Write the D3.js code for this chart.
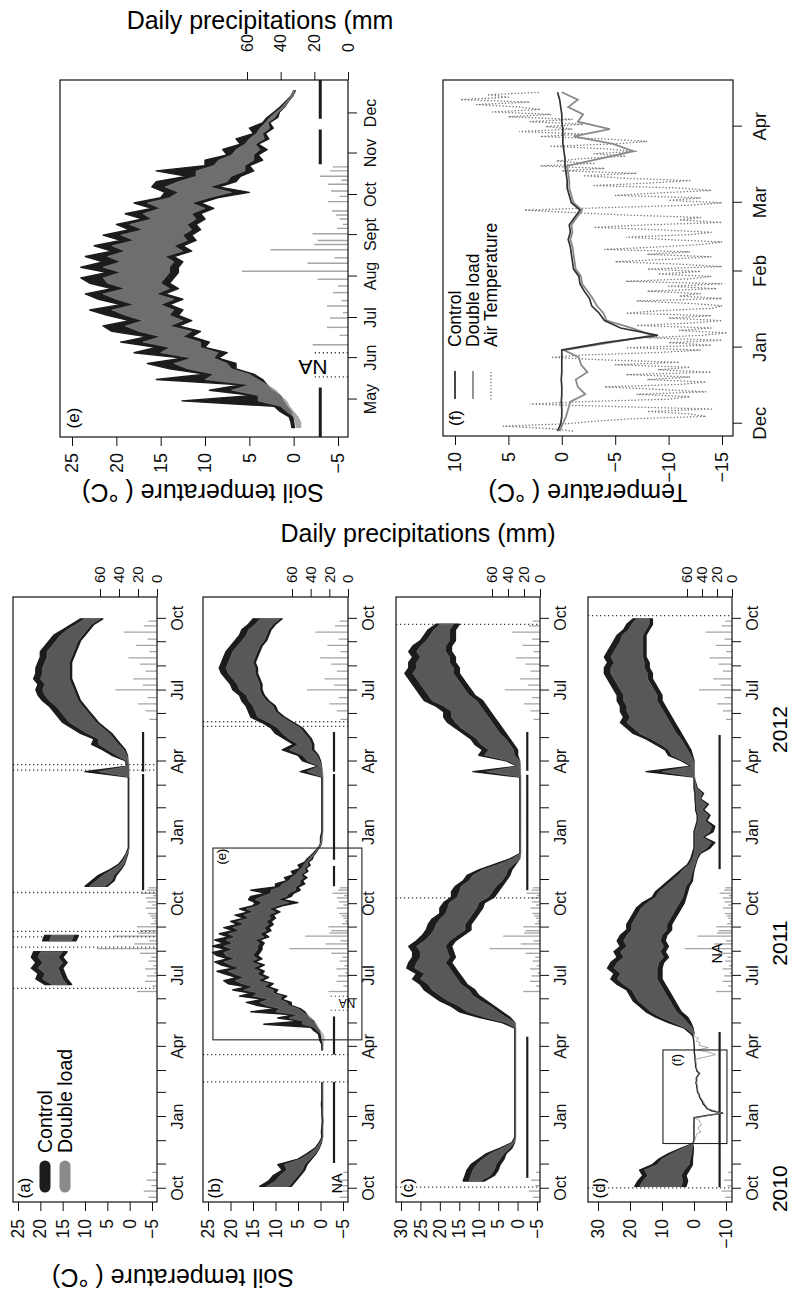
<!DOCTYPE html>
<html>
<head>
<meta charset="utf-8">
<title>Soil temperature</title>
<style>
  body { margin: 0; background: #fff; }
  svg { display: block; }
</style>
</head>
<body>
<svg id="fig" width="791" height="1297"></svg>
<script src="https://d3js.org/d3.v7.min.js"></script>
<script>
const N = null;

// ---- weekly soil temperature (deg C), one value every 7 days from 2010-09-13 ----
const weekStart = '2010-09-13', weekStep = 7;

// (a)
const aHi = [
  N, N, N, N, N, N, N, N, N, N,
  N, N, N, N, N, N, N, N, N, N,
  N, N, N, N, N, N, N, N, N, N,
  N, N, N, N, N, N, N, N, N, N,
  19, 21, 20.5, 22, 21, 22, 21.5, N, 19.5, 19,
  N, N, N, N, N, N, N, N, 10, 8.5,
  7, 4.5, 2.5, 1.5, 0.8, 0.3, 0.3, 0.3, 0.3, 0.3,
  0.3, 0.3, 0.3, 0.3, 0.3, 0.3, 0.3, 0.3, 0.3, 10,
  0.5, 1, 4, 6, 8.5, 8, 11, 13, 15, 16,
  17, 18, 19.5, 20.5, 21, 20.5, 21.5, 21, 21, 20.5,
  20, 20, 19, 18, 17, 15, 13, 11];
const aLo = [
  N, N, N, N, N, N, N, N, N, N,
  N, N, N, N, N, N, N, N, N, N,
  N, N, N, N, N, N, N, N, N, N,
  N, N, N, N, N, N, N, N, N, N,
  13, 14, 14.5, 15, 14, 15, 14, N, 12, 11.5,
  N, N, N, N, N, N, N, N, 5, 3.5,
  3, 2, 1.2, 0.8, 0.4, 0.3, 0.3, 0.3, 0.3, 0.3,
  0.3, 0.3, 0.3, 0.3, 0.3, 0.3, 0.3, 0.3, 0.3, 0.3,
  0.3, 0.4, 0.5, 1, 2, 3, 4, 5.5, 7, 8,
  9, 10, 11, 11.5, 12, 12.5, 13, 13, 13, 13,
  12.5, 12, 11.5, 11, 10, 9, 8, 6];
const aDblHi = [
  N, N, N, N, N, N, N, N, N, N,
  N, N, N, N, N, N, N, N, N, N,
  N, N, N, N, N, N, N, N, N, N,
  N, N, N, N, N, N, N, N, N, N,
  17.5, 19.5, 19, 20.5, 19.5, 20.5, 20, N, 18, 17.5,
  N, N, N, N, N, N, N, N, 9, 7.5,
  6, 4, 2.2, 1.3, 0.7, 0.1, 0.1, 0.1, 0.1, 0.1,
  0.1, 0.1, 0.1, 0.1, 0.1, 0.1, 0.1, 0.1, 0.1, 7,
  0.3, 0.8, 3, 5, 7, 7, 9.5, 11.5, 13.5, 14.5,
  15.5, 16.5, 18, 19, 19.5, 19, 20, 19.5, 19.5, 19,
  18.5, 18.5, 17.5, 16.5, 15.5, 14, 12, 10];
const aDblLo = [
  N, N, N, N, N, N, N, N, N, N,
  N, N, N, N, N, N, N, N, N, N,
  N, N, N, N, N, N, N, N, N, N,
  N, N, N, N, N, N, N, N, N, N,
  14, 15, 15.5, 16, 15, 16, 15, N, 13, 12.5,
  N, N, N, N, N, N, N, N, 5.5, 4,
  3.5, 2.3, 1.3, 0.9, 0.5, 0, 0, 0, 0, 0,
  0, 0, 0, 0, 0, 0, 0, 0, 0, 0,
  0.1, 0.3, 0.6, 1.3, 2.5, 3.5, 4.5, 6, 7.5, 8.5,
  9.5, 10.5, 11.5, 12, 12.5, 13, 13.5, 13.5, 13.5, 13.5,
  13, 12.5, 12, 11.5, 10.5, 9.5, 8.5, 6.5];

// (b)  (Apr-Dec 2011 comes from the detailed (e) series)
const bHi = [
  N, N, N, 13.5, 11.5, 10.5, 8.5, 9.5, 5, 3,
  1.2, 0.3, -0.3, -0.2, -0.3, -0.4, -0.3, -0.3, -0.2, -0.3,
  -0.3, -0.3, -0.3, N, N, N, N, N, -0.3, -0.3,
  N, N, N, N, N, N, N, N, N, N,
  N, N, N, N, N, N, N, N, N, N,
  N, N, N, N, N, N, N, N, N, N,
  N, N, N, N, N, N, 0, 0, -0.3, -0.3,
  -0.3, -0.3, -0.3, -0.3, -0.3, -0.3, -0.3, -0.3, -0.3, 4.5,
  0.5, 4, 5, 8.5, 6, 8, 10, 11, 13, 15.5,
  16, 16.5, 17.5, 18, 19.5, 20, 21, 22, 22.5, 22,
  21.5, 21, 20, 19, 18, 17.5, 16, 15];
const bLo = [
  N, N, N, 6.5, 5.5, 4.5, 3.5, 3, 2, 1,
  0.3, -0.2, -0.4, -0.4, -0.4, -0.5, -0.4, -0.4, -0.4, -0.4,
  -0.4, -0.4, -0.4, N, N, N, N, N, -0.4, -0.4,
  N, N, N, N, N, N, N, N, N, N,
  N, N, N, N, N, N, N, N, N, N,
  N, N, N, N, N, N, N, N, N, N,
  N, N, N, N, N, N, -0.2, -0.3, -0.4, -0.4,
  -0.4, -0.4, -0.4, -0.4, -0.4, -0.4, -0.4, -0.4, -0.4, -0.3,
  -0.2, 0, 0.5, 1.5, 1.5, 2, 3, 4, 6, 8,
  9.5, 10, 11.5, 12.5, 13, 13, 13.5, 14, 14, 14.5,
  14, 13.5, 13, 12, 11.5, 11, 10, 8.5];
const bDblHi = [
  N, N, N, 12, 10, 9, 7.5, 8, 4.5, 2.5,
  1, 0.1, -0.5, -0.5, -0.5, -0.6, -0.5, -0.5, -0.5, -0.5,
  -0.5, -0.5, -0.5, N, N, N, N, N, -0.5, -0.5,
  N, N, N, N, N, N, N, N, N, N,
  N, N, N, N, N, N, N, N, N, N,
  N, N, N, N, N, N, N, N, N, N,
  N, N, N, N, N, N, -0.1, -0.2, -0.5, -0.5,
  -0.5, -0.5, -0.5, -0.5, -0.5, -0.5, -0.5, -0.5, -0.5, 3,
  0.3, 3, 4, 7, 5, 7, 8.5, 9.5, 11.5, 14,
  14.5, 15, 16, 16.5, 18, 18.5, 19.5, 20.5, 21, 20.5,
  20, 19.5, 18.5, 17.5, 16.5, 16, 14.5, 13.5];
const bDblLo = [
  N, N, N, 7, 6, 5, 4, 3.5, 2.3, 1.2,
  0.4, -0.1, -0.6, -0.6, -0.6, -0.7, -0.6, -0.6, -0.6, -0.6,
  -0.6, -0.6, -0.6, N, N, N, N, N, -0.6, -0.6,
  N, N, N, N, N, N, N, N, N, N,
  N, N, N, N, N, N, N, N, N, N,
  N, N, N, N, N, N, N, N, N, N,
  N, N, N, N, N, N, -0.3, -0.4, -0.6, -0.6,
  -0.6, -0.6, -0.6, -0.6, -0.6, -0.6, -0.6, -0.6, -0.6, -0.5,
  -0.3, 0.2, 0.8, 2, 2, 2.5, 3.5, 4.5, 6.5, 8.5,
  10, 10.5, 12, 13, 13.5, 13.5, 14, 14.5, 14.5, 15,
  14.5, 14, 13.5, 12.5, 12, 11.5, 10.5, 9];

// (c)
const cHi = [
  N, N, N, N, 14, 13.5, 13, 12, 10, 8,
  4.5, 1.5, 0.7, 0.7, 0.7, 0.7, 0.7, 0.7, 0.7, 0.7,
  0.7, 0.7, 0.7, 0.7, 0.7, 0.7, 0.7, 0.7, 0.7, 0.7,
  0.7, 0.7, 0.7, 4, 10, 15, 17, 20, 22, 24,
  25, 27, 26, 28.5, 28, 27, 27, 28, 26, 24.5,
  23.5, 23, 22, 20, 20, 19, 17, 17, 16, 14,
  13, 10, 6, 2, -0.6, -0.6, -0.6, -0.6, -0.6, -0.6,
  -0.6, -0.6, -0.6, -0.6, -0.6, -0.6, -0.6, -0.6, -0.6, 11.5,
  0, 3, 10, 9, 11, 12, 14, 16, 18, 19,
  19, 21, 24, 25, 26, 27, 28, 29, 28, 28,
  27, 28, 27, 25, 24, 23, 21, N];
const cLo = [
  N, N, N, N, 8.5, 6, 5, 4.5, 3.5, 3,
  1.5, 0.8, 0.6, 0.6, 0.6, 0.6, 0.6, 0.6, 0.6, 0.6,
  0.6, 0.6, 0.6, 0.6, 0.6, 0.6, 0.6, 0.6, 0.6, 0.6,
  0.6, 0.6, 0.6, 0.7, 2, 4, 6, 8, 10, 11,
  13, 14, 15, 16, 17, 16, 16.5, 17, 16, 14,
  12, 12, 11, 10, 9, 8.5, 6, 5, 4, 3,
  2, 1.5, 0.5, -0.5, -0.7, -0.7, -0.7, -0.7, -0.7, -0.7,
  -0.7, -0.7, -0.7, -0.7, -0.7, -0.7, -0.7, -0.7, -0.7, -0.6,
  -0.6, -0.5, 0, 0, 1, 2, 3, 4, 5, 6,
  7, 8, 9, 11, 12, 13, 14, 15, 15, 16,
  16, 17, 17, 16, 16, 16, 15, N];
const cDblHi = [
  N, N, N, N, 12.5, 12, 11.5, 10.5, 9, 7,
  4, 1.3, 0.5, 0.5, 0.5, 0.5, 0.5, 0.5, 0.5, 0.5,
  0.5, 0.5, 0.5, 0.5, 0.5, 0.5, 0.5, 0.5, 0.5, 0.5,
  0.5, 0.5, 0.5, 3, 8.5, 13, 15, 18, 20, 22,
  23, 25, 24, 26.5, 26, 25, 25, 26, 24, 22.5,
  21.5, 21, 20, 18.5, 18, 17.5, 15.5, 15, 14.5, 12.5,
  11.5, 9, 5, 1.5, -0.8, -0.8, -0.8, -0.8, -0.8, -0.8,
  -0.8, -0.8, -0.8, -0.8, -0.8, -0.8, -0.8, -0.8, -0.8, 8,
  -0.2, 2.5, 8.5, 7.5, 9.5, 10.5, 12.5, 14.5, 16, 17,
  17, 19, 22, 23, 24, 25, 26, 27, 26, 26,
  25, 26, 25, 23.5, 22.5, 21.5, 20, N];
const cDblLo = [
  N, N, N, N, 9.5, 7, 6, 5.5, 4.5, 3.5,
  2, 0.9, 0.4, 0.4, 0.4, 0.4, 0.4, 0.4, 0.4, 0.4,
  0.4, 0.4, 0.4, 0.4, 0.4, 0.4, 0.4, 0.4, 0.4, 0.4,
  0.4, 0.4, 0.4, 0.6, 3, 5, 7, 9.5, 11.5, 12.5,
  14.5, 15.5, 16.5, 17.5, 18.5, 17.5, 18, 18.5, 17.5, 15.5,
  13.5, 13.5, 12.5, 11.5, 10.5, 10, 7.5, 6.5, 5.5, 4,
  3, 2.5, 1, -0.7, -0.9, -0.9, -0.9, -0.9, -0.9, -0.9,
  -0.9, -0.9, -0.9, -0.9, -0.9, -0.9, -0.9, -0.9, -0.9, -0.8,
  -0.8, -0.6, 0.8, 1, 2, 3, 4.5, 5.5, 6.5, 7.5,
  8.5, 9.5, 10.5, 12.5, 13.5, 14.5, 15.5, 16.5, 16.5, 17.5,
  17.5, 18.5, 18.5, 17.5, 17.5, 17.5, 16.5, N];

// (d)  (Dec 2010-Apr 2011 comes from the detailed (f) series)
const dHi = [
  N, N, N, 18.5, 17.5, 16, 17, 13, 11, 8,
  4, N, N, N, N, N, N, N, N, N,
  N, N, N, N, N, N, N, N, N, N,
  N, 1, 3, 8, 12, 15, 17, 19, 20, 21,
  24, 26, 25, 27, 26, 24, 25, 23, 24, 23,
  21, 21, 20, 19, 18, 16, 13, 12, 10, 8,
  6, 4, 2, 1, 0.5, 0, 0, 0, 0, -0.5,
  -1, -1, -0.5, -0.5, -0.3, -0.3, 0, 0, 0, 15,
  1, 4, 8, 9, 12, 15, 19, 21, 23, 22,
  23, 23, 24, 24, 25, 26, 27, 28, 28, 27,
  28, 27, 26, 25, 24, 22, 21, 19];
const dLo = [
  N, N, N, 2.5, 2, 2.5, 1.5, 0.5, 0.5, 0.3,
  0.2, N, N, N, N, N, N, N, N, N,
  N, N, N, N, N, N, N, N, N, N,
  N, 0, 0.3, 1, 2, 4, 5, 6, 7, 8,
  9, 10, 10, 10, 9.5, 8, 9, 8, 9, 8.5,
  7, 7, 6, 5, 4, 3, 2.5, 2, 1.5, 0.5,
  0.3, 0, -0.5, -1, -2, -5, -6.5, -3, -6, -6.5,
  -4, -5, -3, -4.5, -2, -3, -1, -0.5, 0, 0,
  0, 0, 0.5, 1, 2, 3, 4, 5, 6, 7,
  8, 9, 10, 10, 11, 12, 13, 13, 14, 14,
  15, 15, 15, 15, 15, 14, 13, 13];
const dDblHi = [
  N, N, N, 17, 16, 14.5, 15.5, 11.5, 10, 7,
  3.5, N, N, N, N, N, N, N, N, N,
  N, N, N, N, N, N, N, N, N, N,
  N, 0.5, 2.5, 6.5, 10.5, 13.5, 15.5, 17.5, 18.5, 19.5,
  22, 24, 23, 25, 24, 22, 23, 21, 22, 21,
  19.5, 19.5, 18.5, 17.5, 16.5, 14.5, 12, 11, 9, 7,
  5, 3.5, 1.5, 0.5, 0, -0.3, -0.3, -0.3, -0.3, -0.8,
  -1.3, -1.3, -0.8, -0.8, -0.6, -0.6, -0.3, -0.3, -0.3, 10,
  0.5, 3.5, 7, 8, 10.5, 13.5, 17, 19, 21, 20,
  21, 21, 22, 22, 23, 24, 25, 26, 26, 25,
  26, 25, 24, 23, 22.5, 20.5, 19.5, 18];
const dDblLo = [
  N, N, N, 4, 3.5, 4, 3, 1.5, 1.2, 0.8,
  0.5, N, N, N, N, N, N, N, N, N,
  N, N, N, N, N, N, N, N, N, N,
  N, 0, 0.5, 2, 3.5, 5.5, 6.5, 7.5, 8.5, 9.5,
  10.5, 11.5, 11.5, 11.5, 11, 9.5, 10.5, 9.5, 10.5, 10,
  8.5, 8.5, 7.5, 6.5, 5.5, 4.5, 3.5, 3, 2.5, 1.2,
  0.8, 0.3, -0.3, -0.8, -1.6, -4, -5.5, -2.5, -5, -5.5,
  -3.5, -4.5, -2.5, -4, -1.8, -2.6, -0.8, -0.4, -0.2, -0.2,
  -0.1, 0.2, 1, 2, 3, 4, 5.5, 6.5, 7.5, 8.5,
  9.5, 10.5, 11.5, 11.5, 12.5, 13.5, 14.5, 14.5, 15.5, 15.5,
  16, 16, 16, 16, 16, 15, 14, 14];

// ---- (e) detail, every 4 days from 2011-04-10 ----
const eStart = '2011-04-10', eStep = 4;
const eHi = [0.2, 0.3, 0.5, 1.5, 2.2, 12.6, 4.5, 9.5, 6, 15.5,
  10, 14, 16.5, 12.5, 18, 15.5, 19.5, 16.5, 20.5, 21.5,
  18.5, 21, 23, 19.5, 22, 23.5, 20.5, 23, 24, 21,
  24, 21.5, 23.5, 20.5, 22.5, 19.5, 21.5, 18.5, 20, 17,
  19, 16, 18, 15, 14.5, 16, 15.5, 12, 15.5, 10,
  10, 7.5, 8, 6, 6.5, 4.5, 5, 3.5, 3, 2.2,
  1.5, 0.9, 0.3, 0];
const eLo = [-0.1, 0, 0.1, 0.3, 0.8, 1.2, 1.5, 2.5, 3, 3.5,
  4.5, 6.5, 6.5, 8.5, 7.5, 10, 9.5, 11.5, 10.5, 13,
  11.5, 13, 12.5, 14, 12.5, 14.5, 13, 14, 13.5, 13,
  13, 12.5, 13.5, 11.5, 12.5, 11, 11.5, 10.5, 11, 10,
  10.5, 9, 10.5, 8.5, 5, 8.5, 6.5, 6, 4.5, 5,
  3.5, 4, 3, 4, 2.8, 3.2, 2.3, 2.7, 1.8, 1.6,
  1, 0.6, 0.1, -0.2];
const eDblHi = [-0.3, -0.2, 0, 0.8, 1.5, 4, 4, 7, 5, 10,
  9, 12, 13.5, 11.5, 15, 14, 17, 15, 17.5, 19,
  17, 19, 20.5, 18, 20, 21.5, 19, 21, 21.5, 19.5,
  21.5, 19.5, 21, 19, 20.5, 18, 19.5, 17, 18.5, 16,
  17, 15, 16.5, 14, 13, 14.5, 13, 11, 11, 9,
  8.5, 7, 6.5, 5.5, 5, 4.2, 3.8, 3.2, 2.7, 2,
  1.3, 0.8, 0.3, 0];
const eDblLo = [-0.8, -0.8, -0.5, 0, 0.5, 0.8, 1.5, 2, 3, 4,
  5, 7, 7.5, 9, 8.5, 10.5, 10.5, 12.5, 11.5, 14,
  12.5, 14, 13.5, 15, 13.5, 15.5, 14, 15, 14.5, 14,
  14, 13.5, 14.5, 12.5, 13.5, 12, 12.5, 11.5, 12, 11,
  11.5, 10, 11.5, 9.5, 7, 9.5, 7.5, 7, 5.5, 5.5,
  4.5, 4.5, 3.8, 4.3, 3.3, 3.5, 2.7, 2.9, 2.1, 1.7,
  1, 0.6, 0.1, -0.2];

// ---- (f) detail, every 3 days from 2010-11-28 ----
const fStart = '2010-11-28', fStep = 3;
const fCtrl = [0.4, 0.1, 0, 0, 0.05, 0, 0, 0.05, 0, 0, 0, 0,
  -4, -9, -5.5, -4, -3.5, -2.8, -2.6, -2.1, -1.7, -1.6,
  -1.1, -1, -0.9, -0.8, -0.6, -0.8, -0.7, -1.2, -1.7, -0.9,
  -0.7, -0.5, -0.5, -0.4, -0.3, -0.3, -0.2, -0.1, -0.1, -0.1,
  0, 0, 0.1, 0.2, 0.4];
const fDbl = [0.2, -0.1, -0.4, -0.6, -0.8, -2.2, -1.5, -1.3, -2.4, -1.8, -1.6, -0.2,
  -4.5, -8.5, -6.5, -4.2, -3.9, -3.3, -2.9, -2.4, -1.9, -1.8,
  -1.3, -1.2, -1.1, -1, -0.8, -1, -0.9, -1.4, -1.9, -1.1,
  -0.9, -0.7, -0.7, -0.6, -0.5, -3.6, -6.7, -4.8, -1.1, -4.5,
  -1.5, -2, -0.6, -1.5, 0];
// daily air temperature from 2010-11-28
const airStart = '2010-11-28';
const airT = [-1, 1, 5.5,
  -0.5, -3, -6.5, -13.5, -12, -8, -14, -5, 3, -2, -10, -12, -7, -13.5, -9, -4,
  -11, -13.5, -8, -12, -6, -14, -9, -12, -5, -11, -4, 1, -2, -9, -13,
  -6, -14, -10, -15, -8, -13, -15.5, -11, -14, -7, -12, -15, -10, -14, -6, -9,
  -14, -15, -12, -7, -15, -11, -13, -8, -14.5, -10, -15, -6, -12, -14, -9,
  -13, -8, -15, -11, -5, -10, -14, -8, -12, -4, -9, -13, -15, -10, -6, -12,
  -14, -9, -3, -8, -15, -11, -13, -6, -1, 3.5, -4, -12,
  -15, -10, -13, -5, -9, -14, -11, -3, -8, -12, -6, -2, -7, 0, -4, 2,
  -3, 0.5, -2, -6, -3, -7, -4, 1, -5, -8, -4, 2, -2, 4, -1,
  1.5, -2, 3, -1, 5, 1, 6.5, 2, 4, 8, 3, 9.5, 5, 7, 2];

// ---- daily precipitation (mm) ----
const precipDates = ['2010-09-20', '2010-09-28', '2010-10-05', '2010-10-12', '2010-10-22',
  '2011-06-11', '2011-06-18', '2011-06-24', '2011-07-01', '2011-07-05', '2011-07-10', '2011-07-14',
  '2011-07-20', '2011-07-25', '2011-07-30', '2011-08-05', '2011-08-11', '2011-08-15', '2011-08-21',
  '2011-08-25', '2011-08-28', '2011-09-02', '2011-09-06', '2011-09-09', '2011-09-13', '2011-09-16',
  '2011-09-19', '2011-09-26', '2011-09-30', '2011-10-04', '2011-10-09', '2011-10-12', '2011-10-15',
  '2011-10-19', '2011-10-22',
  '2012-05-25', '2012-06-05', '2012-06-14', '2012-06-22', '2012-07-02', '2012-07-08', '2012-07-16',
  '2012-07-26', '2012-08-04', '2012-08-12', '2012-08-20', '2012-08-28', '2012-09-05', '2012-09-14',
  '2012-09-22', '2012-09-28'];
const precipMm = [9, 14, 6, 11, 5,
  21, 5, 12.5, 10.7, 3, 12.5, 4,
  9, 6, 18, 63, 24, 8, 46,
  20, 18, 21, 6.5, 3, 5, 7,
  9.5, 12, 5, 10, 12, 4, 16.6,
  10.7, 9,
  8, 12, 20, 10, 44, 15, 25,
  12, 18, 30, 8, 22, 10, 35,
  14, 9];
const precipNA = ['2011-05-18', '2011-06-05'];

// ---- snow cover marks and data gaps ----
const aSnow = [['2011-10-19', '2012-03-16'], ['2012-03-19', '2012-05-09']];
const bSnow = [['2010-11-03', '2011-02-15'], ['2011-03-22', '2011-05-10'], ['2011-10-24', '2011-11-19'],
  ['2011-11-27', '2012-03-16'], ['2012-03-19', '2012-05-09']];
const cSnow = [['2010-10-15', '2011-04-14'], ['2011-10-19', '2012-03-15'], ['2012-03-20', '2012-05-09']];
const dSnow = [['2010-10-03', '2011-04-20'], ['2011-11-15', '2012-05-05']];
const aGaps = ['2011-06-15', '2011-08-07', '2011-08-20', '2011-08-27', '2011-10-16', '2012-03-21', '2012-03-28'];
const bGaps = ['2011-02-15', '2011-03-22', '2012-05-16', '2012-05-22'];
const cGaps = ['2010-10-03', '2011-10-09', '2012-09-24'];
const dGaps = ['2010-10-02', '2012-10-05'];

const monthNames = ['Jan', 'Feb', 'Mar', 'Apr', 'May', 'Jun', 'Jul', 'Aug', 'Sept', 'Oct', 'Nov', 'Dec'];
const years = ['2010', '2011', '2012'];
const yearAt = ['2010-10-01', '2011-08-12', '2012-05-12'];

// ================= drawing =================
const FONT = '"Liberation Sans", Arial, Helvetica, sans-serif';
const DARK = '#1c1c1c', GREY = '#8a8a8a', RAIN = '#a5a5a5';
const parse = d3.timeParse('%Y-%m-%d');

const svg = d3.select('#fig').attr('font-family', FONT);
svg.append('rect').attr('width', 791).attr('height', 1297).attr('fill', '#fff');
// figure is laid out landscape and turned a quarter turn, like the printed page
const root = svg.append('g').attr('transform', 'translate(0,1297) rotate(-90)');

function seq(start, step, hi, lo) {
  const s = parse(start);
  return hi.map((v, i) => ({ date: d3.timeDay.offset(s, step * i), hi: v, lo: lo ? lo[i] : v }));
}
function splice(outer, inner) {
  const a = inner[0].date, b = inner[inner.length - 1].date;
  return outer.filter(d => d.date < a).concat(inner, outer.filter(d => d.date > b));
}

const eCtrl = seq(eStart, eStep, eHi, eLo), eDbl = seq(eStart, eStep, eDblHi, eDblLo);
const fCtrlS = seq(fStart, fStep, fCtrl), fDblS = seq(fStart, fStep, fDbl);
const rain = precipDates.map((d, i) => ({ date: parse(d), mm: precipMm[i] }));

const panels = [
  { key: 'a', label: '(a)', y0: 13, y1: 157, temp: [-5, 25], tempPx: [152, 18], ticks: [-5, 0, 5, 10, 15, 20, 25], rainPx: [157, 100],
    ctrl: seq(weekStart, weekStep, aHi, aLo), dbl: seq(weekStart, weekStep, aDblHi, aDblLo), snow: aSnow, snowT: -3, gaps: aGaps },
  { key: 'b', label: '(b)', y0: 203, y1: 348, temp: [-5, 25], tempPx: [343, 208], ticks: [-5, 0, 5, 10, 15, 20, 25], rainPx: [348, 292],
    ctrl: splice(seq(weekStart, weekStep, bHi, bLo), eCtrl), dbl: splice(seq(weekStart, weekStep, bDblHi, bDblLo), eDbl),
    snow: bSnow, snowT: -3, gaps: bGaps, na: true },
  { key: 'c', label: '(c)', y0: 396, y1: 540, temp: [-5, 30], tempPx: [537, 401], ticks: [-5, 0, 5, 10, 15, 20, 25, 30], rainPx: [540, 492],
    ctrl: seq(weekStart, weekStep, cHi, cLo), dbl: seq(weekStart, weekStep, cDblHi, cDblLo), snow: cSnow, snowT: -2.5, gaps: cGaps },
  { key: 'd', label: '(d)', y0: 588, y1: 732, temp: [-10, 30], tempPx: [726, 598], ticks: [-10, 0, 10, 20, 30], rainPx: [732, 687],
    ctrl: splice(seq(weekStart, weekStep, dHi, dLo), fCtrlS), dbl: splice(seq(weekStart, weekStep, dDblHi, dDblLo), fDblS),
    snow: dSnow, snowT: -8, gaps: dGaps }
];

const X0 = 95, X1 = 700;
const x4 = d3.scaleTime().domain([parse('2010-09-14'), parse('2012-10-29')]).range([X0, X1]);

function bands(g, x, y, ctrl, dbl, darkW, greyOp) {
  const area = d3.area().defined(d => d.hi != null && d.lo != null)
    .x(d => x(d.date)).y0(d => y(d.lo)).y1(d => y(d.hi));
  g.append('path').attr('d', area(ctrl)).attr('fill', DARK).attr('stroke', DARK)
    .attr('stroke-width', darkW).attr('stroke-linejoin', 'round');
  g.append('path').attr('d', area(dbl)).attr('fill', GREY).attr('fill-opacity', greyOp)
    .attr('stroke', GREY).attr('stroke-opacity', greyOp).attr('stroke-width', 0.8).attr('stroke-linejoin', 'round');
}

function styleAxis(a, size) {
  a.select('.domain').remove();
  a.attr('font-family', FONT).attr('font-size', size);
  a.selectAll('text').attr('fill', '#111');
  a.selectAll('line').attr('stroke', '#111');
}

function clipFor(g, id, x0, y0, x1, y1) {
  g.append('clipPath').attr('id', id).append('rect')
    .attr('x', x0).attr('y', y0).attr('width', x1 - x0).attr('height', y1 - y0);
  return g.append('g').attr('clip-path', `url(#${id})`);
}

panels.forEach(p => {
  const g = root.append('g');
  const y = d3.scaleLinear().domain(p.temp).range(p.tempPx);
  const r = d3.scaleLinear().domain([0, 60]).range(p.rainPx);
  const inner = clipFor(g, 'clip' + p.key, X0, p.y0, X1, p.y1);

  inner.selectAll('line.rain').data(rain).join('line')
    .attr('x1', d => x4(d.date)).attr('x2', d => x4(d.date))
    .attr('y1', r(0)).attr('y2', d => r(d.mm)).attr('stroke', RAIN).attr('stroke-width', 1.3);

  inner.selectAll('line.gap').data(p.gaps).join('line')
    .attr('x1', d => x4(parse(d))).attr('x2', d => x4(parse(d)))
    .attr('y1', p.y0).attr('y2', p.y1).attr('stroke', '#444').attr('stroke-width', 1.3)
    .attr('stroke-dasharray', '1.3 2.7');

  inner.selectAll('line.snow').data(p.snow).join('line')
    .attr('x1', d => x4(parse(d[0]))).attr('x2', d => x4(parse(d[1])))
    .attr('y1', y(p.snowT)).attr('y2', y(p.snowT)).attr('stroke', DARK).attr('stroke-width', 2.2);

  bands(inner, x4, y, p.ctrl, p.dbl, 1.4, 0.55);

  if (p.na) {
    inner.selectAll('line.na').data(precipNA).join('line')
      .attr('x1', d => x4(parse(d))).attr('x2', d => x4(parse(d)))
      .attr('y1', r(0)).attr('y2', r(21)).attr('stroke', '#444').attr('stroke-dasharray', '1.3 2.7');
  }

  // axes
  const months = d3.timeMonth.range(parse('2010-10-01'), parse('2012-10-02'));
  g.append('g').attr('transform', `translate(0,${p.y1})`)
    .call(d3.axisBottom(x4).tickValues(months).tickSize(9).tickPadding(6)
      .tickFormat(d => d.getMonth() % 3 === 0 ? monthNames[d.getMonth()] : ''))
    .call(a => styleAxis(a, 16));
  g.append('g').attr('transform', `translate(${X0},0)`)
    .call(d3.axisLeft(y).tickValues(p.ticks).tickSize(9).tickPadding(8).tickFormat(d3.format('d')))
    .call(a => styleAxis(a, 17.5));
  g.append('g').attr('transform', `translate(${X1},0)`)
    .call(d3.axisRight(r).tickValues([0, 20, 40, 60]).tickSize(8).tickPadding(6))
    .call(a => styleAxis(a, 15));

  g.append('rect').attr('x', X0).attr('y', p.y0).attr('width', X1 - X0).attr('height', p.y1 - p.y0)
    .attr('fill', 'none').attr('stroke', '#111').attr('stroke-width', 1.2);
  g.append('text').attr('x', X0 + 14).attr('y', p.y0 + 11).attr('dy', '0.35em')
    .attr('text-anchor', 'middle').attr('font-size', 17).text(p.label);

  p.y = y; p.r = r;
});

// NA marks in (b) and (d)
const pb = panels[1], pd = panels[3];
root.append('text').attr('x', x4(parse('2010-10-08'))).attr('y', pb.y(-3.7)).attr('dy', '0.35em')
  .attr('text-anchor', 'middle').attr('font-size', 14.5).text('NA');
root.append('text').attr('transform', `translate(${x4(parse('2011-05-27'))},${pb.y1 - 1}) rotate(-90)`)
  .attr('dy', '0.35em').attr('text-anchor', 'middle').attr('font-size', 12).text('NA');
root.append('text').attr('x', x4(parse('2011-07-30'))).attr('y', pd.y(-7.2)).attr('dy', '0.35em')
  .attr('text-anchor', 'middle').attr('font-size', 14.5).text('NA');

// zoom boxes (e) in (b) and (f) in (d)
root.append('rect').attr('x', x4(parse('2011-04-10'))).attr('y', pb.y(23.9))
  .attr('width', x4(parse('2011-12-12')) - x4(parse('2011-04-10'))).attr('height', pb.y(-9.2) - pb.y(23.9))
  .attr('fill', 'none').attr('stroke', '#222').attr('stroke-width', 1.1);
root.append('text').attr('x', x4(parse('2011-12-01'))).attr('y', pb.y(22)).attr('dy', '0.35em')
  .attr('text-anchor', 'middle').attr('font-size', 13).text('(e)');
root.append('rect').attr('x', x4(parse('2010-11-28'))).attr('y', pd.y(9.7))
  .attr('width', x4(parse('2011-03-28')) - x4(parse('2010-11-28'))).attr('height', pd.y(-10.3) - pd.y(9.7))
  .attr('fill', 'none').attr('stroke', '#222').attr('stroke-width', 1.1);
root.append('text').attr('x', x4(parse('2011-03-15'))).attr('y', pd.y(5.5)).attr('dy', '0.35em')
  .attr('text-anchor', 'middle').attr('font-size', 13).text('(f)');

// legend (a)
[['Control', DARK, 45], ['Double load', GREY, 65]].forEach(([t, c, yy]) => {
  root.append('line').attr('x1', 110).attr('x2', 131).attr('y1', yy).attr('y2', yy)
    .attr('stroke', c).attr('stroke-width', 11).attr('stroke-linecap', 'round');
  root.append('text').attr('x', 144).attr('y', yy).attr('dy', '0.35em').attr('font-size', 19.5).text(t);
});

// years and shared titles
years.forEach((t, i) => {
  root.append('text').attr('x', x4(parse(yearAt[i]))).attr('y', 780).attr('dy', '0.35em')
    .attr('text-anchor', 'middle').attr('font-size', 21).text(t);
});
root.append('text').attr('transform', 'translate(19,173) rotate(-90)').attr('dy', '0.35em')
  .attr('text-anchor', 'middle').attr('font-size', 25).text('Soil temperature ( °C)');
root.append('text').attr('transform', 'translate(764,418) rotate(90)').attr('dy', '0.35em')
  .attr('text-anchor', 'middle').attr('font-size', 25).text('Daily precipitations (mm)');

// ---------- (e) ----------
{
  const g = root.append('g');
  const EX0 = 860, EX1 = 1217, EY0 = 60, EY1 = 348;
  const x = d3.scaleTime().domain([parse('2011-04-03'), parse('2011-12-26')]).range([EX0, EX1]);
  const y = d3.scaleLinear().domain([-5, 25]).range([338, 72]);
  const r = d3.scaleLinear().domain([0, 60]).range([348, 247]);
  const inner = clipFor(g, 'clipE', EX0, EY0, EX1, EY1);
  inner.selectAll('line.rain').data(rain).join('line')
    .attr('x1', d => x(d.date)).attr('x2', d => x(d.date))
    .attr('y1', r(0)).attr('y2', d => r(d.mm)).attr('stroke', RAIN).attr('stroke-width', 1.4);
  inner.selectAll('line.na').data(precipNA).join('line')
    .attr('x1', d => x(parse(d))).attr('x2', d => x(parse(d)))
    .attr('y1', r(0)).attr('y2', r(21)).attr('stroke', '#444').attr('stroke-width', 1.3).attr('stroke-dasharray', '1.3 2.7');
  inner.selectAll('line.snow').data(bSnow).join('line')
    .attr('x1', d => x(parse(d[0]))).attr('x2', d => x(parse(d[1])))
    .attr('y1', y(-3)).attr('y2', y(-3)).attr('stroke', DARK).attr('stroke-width', 3);
  bands(inner, x, y, eCtrl, eDbl, 1.4, 0.75);
  inner.append('text').attr('transform', `translate(${x(parse('2011-05-25'))},313) rotate(-90)`)
    .attr('dy', '0.35em').attr('text-anchor', 'middle').attr('font-size', 21).text('NA');

  const months = d3.timeMonth.range(parse('2011-05-01'), parse('2011-12-02'));
  g.append('g').attr('transform', `translate(0,${EY1})`)
    .call(d3.axisBottom(x).tickValues(months).tickSize(9).tickPadding(8).tickFormat(d => monthNames[d.getMonth()]))
    .call(a => styleAxis(a, 16));
  g.append('g').attr('transform', `translate(${EX0},0)`)
    .call(d3.axisLeft(y).tickValues([-5, 0, 5, 10, 15, 20, 25]).tickSize(9).tickPadding(7).tickFormat(d3.format('d')))
    .call(a => styleAxis(a, 18));
  g.append('g').attr('transform', `translate(${EX1},0)`)
    .call(d3.axisRight(r).tickValues([0, 20, 40, 60]).tickSize(8).tickPadding(20))
    .call(a => styleAxis(a, 16));
  g.append('rect').attr('x', EX0).attr('y', EY0).attr('width', EX1 - EX0).attr('height', EY1 - EY0)
    .attr('fill', 'none').attr('stroke', '#111').attr('stroke-width', 1.2);
  g.append('text').attr('x', 879).attr('y', 73).attr('dy', '0.35em').attr('text-anchor', 'middle')
    .attr('font-size', 17).text('(e)');
  g.append('text').attr('transform', 'translate(804,203) rotate(-90)').attr('dy', '0.35em')
    .attr('text-anchor', 'middle').attr('font-size', 25).text('Soil temperature ( °C)');
  g.append('text').attr('transform', 'translate(1277,260) rotate(90)').attr('dy', '0.35em')
    .attr('text-anchor', 'middle').attr('font-size', 25).text('Daily precipitations (mm');
}

// ---------- (f) ----------
{
  const g = root.append('g');
  const FX0 = 861, FX1 = 1217, FY0 = 443, FY1 = 733;
  const x = d3.scaleTime().domain([parse('2010-11-26'), parse('2011-04-20')]).range([FX0, FX1]);
  const y = d3.scaleLinear().domain([-15, 10]).range([722, 455]);
  const inner = clipFor(g, 'clipF', FX0, FY0, FX1, FY1);
  const air = airT.map((v, i) => ({ date: d3.timeDay.offset(parse(airStart), i), v }));
  const line = d3.line().x(d => x(d.date)).y(d => y(d.v));
  inner.append('path').attr('d', line(air)).attr('fill', 'none').attr('stroke', '#7a7a7a')
    .attr('stroke-width', 1.5).attr('stroke-dasharray', '0.1 3.2').attr('stroke-linecap', 'round');
  inner.append('path').attr('d', line(fDblS.map(d => ({ date: d.date, v: d.hi }))))
    .attr('fill', 'none').attr('stroke', GREY).attr('stroke-width', 1.8);
  inner.append('path').attr('d', line(fCtrlS.map(d => ({ date: d.date, v: d.hi }))))
    .attr('fill', 'none').attr('stroke', '#333').attr('stroke-width', 1.7);

  const months = d3.timeMonth.range(parse('2010-12-01'), parse('2011-04-02'));
  g.append('g').attr('transform', `translate(0,${FY1})`)
    .call(d3.axisBottom(x).tickValues(months).tickSize(9).tickPadding(11).tickFormat(d => monthNames[d.getMonth()]))
    .call(a => styleAxis(a, 18.5));
  g.append('g').attr('transform', `translate(${FX0},0)`)
    .call(d3.axisLeft(y).tickValues([-15, -10, -5, 0, 5, 10]).tickSize(9).tickPadding(7).tickFormat(d3.format('d')))
    .call(a => styleAxis(a, 18));
  g.append('rect').attr('x', FX0).attr('y', FY0).attr('width', FX1 - FX0).attr('height', FY1 - FY0)
    .attr('fill', 'none').attr('stroke', '#111').attr('stroke-width', 1.2);
  g.append('text').attr('x', 879).attr('y', 455).attr('dy', '0.35em').attr('text-anchor', 'middle')
    .attr('font-size', 17).text('(f)');
  const leg = [['Control', '#333', 455, null], ['Double load', GREY, 473, null], ['Air Temperature', '#7a7a7a', 491, '0.1 3.2']];
  leg.forEach(([t, c, yy, dash]) => {
    g.append('line').attr('x1', 898).attr('x2', 926).attr('y1', yy).attr('y2', yy)
      .attr('stroke', c).attr('stroke-width', dash ? 1.5 : 1.8).attr('stroke-dasharray', dash)
      .attr('stroke-linecap', dash ? 'round' : 'butt');
    g.append('text').attr('x', 950).attr('y', yy).attr('dy', '0.35em').attr('font-size', 17.5).text(t);
  });
  g.append('text').attr('transform', 'translate(804,588) rotate(-90)').attr('dy', '0.35em')
    .attr('text-anchor', 'middle').attr('font-size', 25).text('Temperature ( °C)');
}
</script>
</body>
</html>
